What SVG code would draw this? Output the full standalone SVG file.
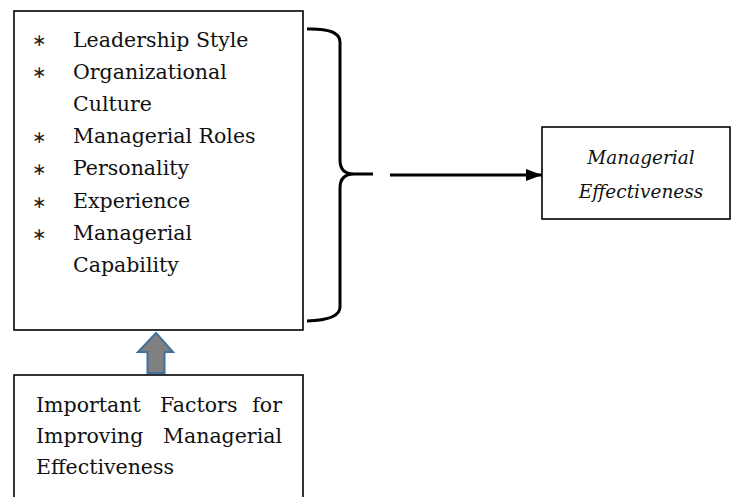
<svg xmlns="http://www.w3.org/2000/svg" width="732" height="497" viewBox="0 0 732 497">
<style>
.box{fill:#fff;stroke:#000;stroke-width:1.6}
.t{font-family:"DejaVu Serif","Liberation Serif",serif;font-size:20.5px;fill:#111}
.ti{font-family:"DejaVu Serif","Liberation Serif",serif;font-size:18.5px;font-style:italic;fill:#111}
.b{font-family:"DejaVu Sans","Liberation Sans",sans-serif;font-size:17px;fill:#222}
.ln{fill:none;stroke:#000;stroke-width:3}
</style>
<defs>
<marker id="ah" markerWidth="16" markerHeight="12" refX="16" refY="6" orient="auto" markerUnits="userSpaceOnUse">
<path d="M0,0 L16,6 L0,12 Z" fill="#000"/>
</marker>
</defs>
<rect width="732" height="497" fill="#fff"/>
<g id="factors">
<rect class="box" x="14" y="11" width="289" height="319"/>
<g class="b">
<text x="32" y="46">∗</text>
<text x="32" y="78">∗</text>
<text x="32" y="143">∗</text>
<text x="32" y="175">∗</text>
<text x="32" y="208">∗</text>
<text x="32" y="240">∗</text>
</g>
<g class="t">
<text x="73" y="47">Leadership Style</text>
<text x="73" y="79">Organizational</text>
<text x="73" y="111">Culture</text>
<text x="73" y="143">Managerial Roles</text>
<text x="73" y="175">Personality</text>
<text x="73" y="208">Experience</text>
<text x="73" y="240">Managerial</text>
<text x="73" y="272">Capability</text>
</g>
</g>
<g id="effectiveness">
<rect class="box" x="542" y="127" width="188" height="92"/>
<text class="ti" x="641" y="164" text-anchor="middle">Managerial</text>
<text class="ti" x="641" y="198" text-anchor="middle">Effectiveness</text>
</g>
<g id="important">
<rect class="box" x="14" y="375" width="289" height="130"/>
<g class="t">
<text x="36" y="412">Important</text>
<text x="160" y="412">Factors</text>
<text x="282" y="412" text-anchor="end">for</text>
<text x="36" y="443">Improving</text>
<text x="282" y="443" text-anchor="end">Managerial</text>
<text x="36" y="474">Effectiveness</text>
</g>
</g>
<g id="connectors">
<path class="ln" d="M307,29 Q340,28 340,42 L340,160 Q340,174 354,174 L373,174 M354,174 Q340,174 340,188 L340,307 Q340,320 307,321"/>
<line class="ln" x1="390" y1="175" x2="542" y2="175" marker-end="url(#ah)"/>
<path d="M156,333 L173,352 L164.5,352 L164.5,373 L147.5,373 L147.5,352 L138,352 Z" fill="#808080" stroke="#41719C" stroke-width="2" stroke-linejoin="miter"/>
</g>
</svg>
